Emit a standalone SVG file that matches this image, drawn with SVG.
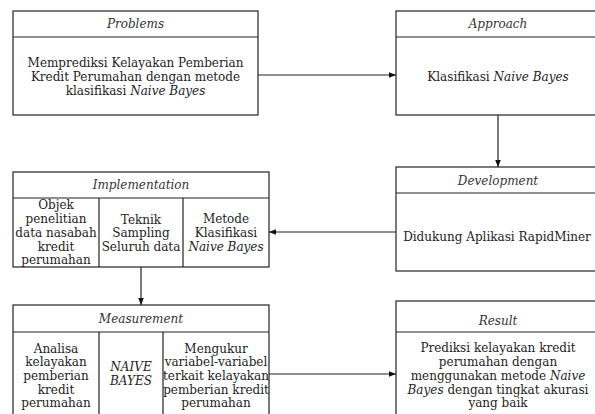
<svg xmlns="http://www.w3.org/2000/svg" width="595" height="414" viewBox="0 0 595 414">
<style>
.box{fill:#fff;stroke:#222;stroke-width:1.2}
.ln{stroke:#222;stroke-width:1.2;fill:none}
text{font-family:"DejaVu Serif","Liberation Serif",serif;font-size:12px;fill:#222;text-anchor:middle}
.t{font-style:italic;fill:#333}
.i{font-style:italic}
</style>
<defs>
<marker id="ah" viewBox="0 0 10 10" refX="10" refY="5" markerWidth="7" markerHeight="7" orient="auto" markerUnits="userSpaceOnUse">
<path d="M0,1 L10,5 L0,9 Z" fill="#111"/>
</marker>
</defs>
<rect width="595" height="414" fill="#fff"/>
<g id="connectors">
<line class="ln" x1="258" y1="75" x2="396" y2="75" marker-end="url(#ah)"/>
<line class="ln" x1="498" y1="115" x2="498" y2="167" marker-end="url(#ah)"/>
<line class="ln" x1="396" y1="232" x2="269" y2="232" marker-end="url(#ah)"/>
<line class="ln" x1="141" y1="267" x2="141" y2="305" marker-end="url(#ah)"/>
<line class="ln" x1="269" y1="374" x2="396" y2="374" marker-end="url(#ah)"/>
</g>
<g id="problems">
<rect class="box" x="13" y="11" width="245" height="104"/>
<line class="ln" x1="13" y1="37" x2="258" y2="37"/>
<text class="t" x="135.5" y="28">Problems</text>
<text x="135.5" y="67">Memprediksi Kelayakan Pemberian</text>
<text x="135.5" y="81">Kredit Perumahan dengan metode</text>
<text x="135.5" y="95">klasifikasi <tspan class="i">Naive Bayes</tspan></text>
</g>
<g id="approach">
<rect class="box" x="396" y="11" width="204" height="104"/>
<line class="ln" x1="396" y1="37" x2="600" y2="37"/>
<text class="t" x="498" y="28">Approach</text>
<text x="498" y="81">Klasifikasi <tspan class="i">Naive Bayes</tspan></text>
</g>
<g id="development">
<rect class="box" x="396" y="167" width="204" height="104"/>
<line class="ln" x1="396" y1="193" x2="600" y2="193"/>
<text class="t" x="498" y="185">Development</text>
<text x="497" y="241">Didukung Aplikasi RapidMiner</text>
</g>
<g id="implementation">
<rect class="box" x="13" y="172" width="256" height="95"/>
<line class="ln" x1="13" y1="198" x2="269" y2="198"/>
<line class="ln" x1="99" y1="198" x2="99" y2="267"/>
<line class="ln" x1="183" y1="198" x2="183" y2="267"/>
<text class="t" x="141" y="189">Implementation</text>
<text x="56" y="209">Objek</text>
<text x="56" y="223">penelitian</text>
<text x="56" y="237">data nasabah</text>
<text x="56" y="251">kredit</text>
<text x="56" y="264">perumahan</text>
<text x="141" y="224">Teknik</text>
<text x="141" y="237">Sampling</text>
<text x="141" y="251">Seluruh data</text>
<text x="226" y="223">Metode</text>
<text x="226" y="237">Klasifikasi</text>
<text class="i" x="226" y="251">Naive Bayes</text>
</g>
<g id="measurement">
<rect class="box" x="13" y="305" width="256" height="120"/>
<line class="ln" x1="13" y1="332" x2="269" y2="332"/>
<line class="ln" x1="99" y1="332" x2="99" y2="420"/>
<line class="ln" x1="163" y1="332" x2="163" y2="420"/>
<text class="t" x="141" y="323">Measurement</text>
<text x="56" y="353">Analisa</text>
<text x="56" y="366">kelayakan</text>
<text x="56" y="380">pemberian</text>
<text x="56" y="394">kredit</text>
<text x="56" y="407">perumahan</text>
<text class="i" x="131" y="371">NAIVE</text>
<text class="i" x="131" y="385">BAYES</text>
<text x="216" y="353">Mengukur</text>
<text x="216" y="366">variabel-variabel</text>
<text x="216" y="380">terkait kelayakan</text>
<text x="216" y="394">pemberian kredit</text>
<text x="216" y="407">perumahan</text>
</g>
<g id="result">
<rect class="box" x="396" y="301" width="204" height="124"/>
<line class="ln" x1="396" y1="332" x2="600" y2="332"/>
<text class="t" x="498" y="325">Result</text>
<text x="498" y="352">Prediksi kelayakan kredit</text>
<text x="498" y="366">perumahan dengan</text>
<text x="498" y="380">menggunakan metode <tspan class="i">Naive</tspan></text>
<text x="498" y="394"><tspan class="i">Bayes</tspan> dengan tingkat akurasi</text>
<text x="498" y="407">yang baik</text>
</g>
</svg>
